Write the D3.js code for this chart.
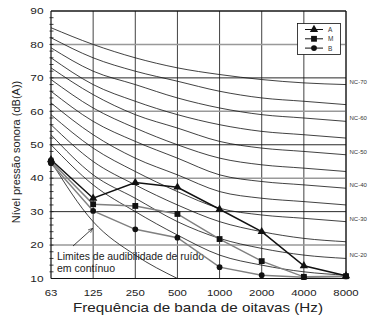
<!DOCTYPE html>
<html>
<head>
<meta charset="utf-8">
<script src="https://cdn.jsdelivr.net/npm/d3@7"></script>
<style>
  body { margin: 0; background: #fff; }
  text { font-family: "Liberation Sans", Arial, sans-serif; }
</style>
</head>
<body>
<script>
// frequency bands (Hz)
var bands = ['63', '125', '250', '500', '1000', '2000', '4000', '8000'];
var yTicks = [10, 20, 30, 40, 50, 60, 70, 80, 90];

// NC curves, one row per curve
var ncNames = ['NC-15', 'NC-20', 'NC-25', 'NC-30', 'NC-35', 'NC-40', 'NC-45', 'NC-50', 'NC-55', 'NC-60', 'NC-65', 'NC-70'];
var ncValues = [
  [50, 38, 30, 23, 17, 14, 12, 11],
  [53, 41, 34, 27, 22, 19, 17, 16],
  [56, 45, 38, 32, 27, 24, 22, 21],
  [59, 49, 42, 36, 31, 29, 28, 27],
  [62.5, 53, 46, 41, 36, 34, 33, 32],
  [66, 57, 51, 46, 41, 39, 38, 37],
  [69.5, 61, 55, 50, 46, 44, 43, 42],
  [73, 65, 59, 55, 51, 49, 48, 47],
  [76, 68, 63, 59, 56, 54, 53, 52],
  [79, 72, 68, 64, 61, 59, 58, 57],
  [82, 76, 72, 69, 66, 64, 63, 62],
  [85, 80, 76, 73, 71, 69.5, 68.5, 68]
];
var ncLabeled = ['NC-20', 'NC-30', 'NC-40', 'NC-50', 'NC-60', 'NC-70'];

// hearing threshold curve
var audBands = ['63', '125', '250', '500'];
var audValues = [45, 27, 17, 10];

// measured series
var seriesNames = ['A', 'M', 'B'];
var serieA = [45.5, 34, 38.7, 37.3, 30.7, 24, 13.8, 10.8];
var serieM = [45, 32.2, 31.7, 29.3, 21.8, 15.2, 10.5, 10.7];
var serieB = [44.5, 30.2, 24.7, 22.2, 13.4, 11, 10.4, 10.6];

var width = 368, height = 319;
var pLeft = 51, pRight = 346, pTop = 11, pBottom = 278.5;

var svg = d3.select('body').append('svg')
  .attr('width', width)
  .attr('height', height);

var x = d3.scalePoint().domain(bands).range([pLeft, pRight]);
var y = d3.scaleLinear().domain([10, 90]).range([pBottom, pTop]);

// grid
svg.append('g').selectAll('line').data(bands.slice(1))
  .enter().append('line')
  .attr('x1', function(d){ return x(d); }).attr('x2', function(d){ return x(d); })
  .attr('y1', pTop).attr('y2', pBottom)
  .attr('stroke', '#111').attr('stroke-width', 0.8);

svg.append('g').selectAll('line').data(yTicks.slice(1))
  .enter().append('line')
  .attr('x1', pLeft).attr('x2', pRight)
  .attr('y1', function(d){ return y(d); }).attr('y2', function(d){ return y(d); })
  .attr('stroke', function(d){ return (d % 20 == 0) ? '#999' : '#111'; })
  .attr('stroke-width', function(d){ return (d % 20 == 0) ? 1.4 : 0.9; });

// NC curves
var ncLine = d3.line()
  .x(function(d, i){ return x(bands[i]); })
  .y(function(d){ return y(d); })
  .curve(d3.curveMonotoneX);

svg.append('g').selectAll('path').data(ncValues)
  .enter().append('path')
  .attr('d', ncLine)
  .attr('fill', 'none')
  .attr('stroke', '#111')
  .attr('stroke-width', 0.8);

svg.append('g').selectAll('text').data(ncLabeled)
  .enter().append('text')
  .attr('x', pRight + 3.5)
  .attr('y', function(d){ return y(ncValues[ncNames.indexOf(d)][7]) - 1; })
  .attr('font-size', 6)
  .attr('fill', '#333')
  .text(function(d){ return d; });

// hearing threshold
var audLine = d3.line()
  .x(function(d, i){ return x(audBands[i]); })
  .y(function(d){ return y(d); })
  .curve(d3.curveMonotoneX);
svg.append('path').attr('d', audLine(audValues))
  .attr('fill', 'none').attr('stroke', '#111').attr('stroke-width', 0.8);

// axes frame
svg.append('line').attr('x1', pLeft).attr('x2', pLeft).attr('y1', pTop).attr('y2', pBottom)
  .attr('stroke', '#111').attr('stroke-width', 1.2);
svg.append('line').attr('x1', pLeft).attr('x2', pRight).attr('y1', pBottom).attr('y2', pBottom)
  .attr('stroke', '#111').attr('stroke-width', 1.2);
svg.append('line').attr('x1', pLeft).attr('x2', pRight).attr('y1', pTop).attr('y2', pTop)
  .attr('stroke', '#111').attr('stroke-width', 1);
svg.append('line').attr('x1', pRight).attr('x2', pRight).attr('y1', pTop).attr('y2', pBottom)
  .attr('stroke', '#111').attr('stroke-width', 1);

// minor ticks every 2 dB
svg.append('g').selectAll('line').data(d3.range(12, 90, 2))
  .enter().append('line')
  .attr('x1', pLeft - 1.5).attr('x2', pLeft + 2.5)
  .attr('y1', function(d){ return y(d); }).attr('y2', function(d){ return y(d); })
  .attr('stroke', '#111').attr('stroke-width', 0.8);

// tick labels (the original is slightly stretched sideways)
svg.append('g').selectAll('text').data(yTicks)
  .enter().append('text')
  .attr('transform', function(d){ return 'translate(' + (pLeft - 7.5) + ',' + (y(d) + 3.3) + ') scale(1.25,1)'; })
  .attr('text-anchor', 'end').attr('font-size', 9.5).attr('fill', '#222')
  .text(function(d){ return d; });

svg.append('g').selectAll('text').data(bands)
  .enter().append('text')
  .attr('transform', function(d){ return 'translate(' + x(d) + ',296) scale(1.2,1)'; })
  .attr('text-anchor', 'middle').attr('font-size', 9.5).attr('fill', '#222')
  .text(function(d){ return d; });

svg.append('text').attr('x', 198).attr('y', 312)
  .attr('text-anchor', 'middle').attr('font-size', 13.5).attr('fill', '#222')
  .attr('textLength', 250).attr('lengthAdjust', 'spacingAndGlyphs')
  .text('Frequência de banda de oitavas (Hz)');

svg.append('text')
  .attr('transform', 'translate(20,' + 152 + ') rotate(-90)')
  .attr('text-anchor', 'middle').attr('font-size', 11).attr('fill', '#222')
  .text('Nível pressão sonora (dB(A))');

// annotation
svg.append('text').attr('x', 57).attr('y', 260).attr('font-size', 10.4).attr('fill', '#222')
  .attr('textLength', 147).attr('lengthAdjust', 'spacingAndGlyphs')
  .text('Limites de audibilidade de ruído');
svg.append('text').attr('x', 57).attr('y', 271.5).attr('font-size', 10.4).attr('fill', '#222')
  .attr('textLength', 58).attr('lengthAdjust', 'spacingAndGlyphs')
  .text('em contínuo');
svg.append('defs').append('marker')
  .attr('id', 'arr').attr('viewBox', '0 0 10 10').attr('refX', 9).attr('refY', 5)
  .attr('markerWidth', 6).attr('markerHeight', 6).attr('orient', 'auto')
  .append('path').attr('d', 'M0,1 L10,5 L0,9').attr('fill', 'none').attr('stroke', '#111').attr('stroke-width', 1.2);
svg.append('line').attr('x1', 73).attr('y1', 246).attr('x2', 92.5).attr('y2', 228.5)
  .attr('stroke', '#111').attr('stroke-width', 0.8).attr('marker-end', 'url(#arr)');

// series
var dataLine = d3.line()
  .x(function(d, i){ return x(bands[i]); })
  .y(function(d){ return y(d); });

var series = [
  {name: 'A', values: serieA, color: '#111', shape: d3.symbolTriangle, size: 30},
  {name: 'M', values: serieM, color: '#808080', shape: d3.symbolSquare, size: 34},
  {name: 'B', values: serieB, color: '#808080', shape: d3.symbolCircle, size: 26}
];

series.slice().reverse().forEach(function(s){
  svg.append('path').attr('d', dataLine(s.values))
    .attr('fill', 'none').attr('stroke', s.color).attr('stroke-width', 1.5);
});
series.forEach(function(s){
  svg.append('g').selectAll('path').data(s.values)
    .enter().append('path')
    .attr('transform', function(d, i){ return 'translate(' + x(bands[i]) + ',' + y(d) + ')'; })
    .attr('d', d3.symbol().type(s.shape).size(s.size))
    .attr('fill', '#111');
});

// legend
var lg = svg.append('g');
lg.append('rect').attr('x', 297.5).attr('y', 23.5).attr('width', 43).attr('height', 31)
  .attr('fill', '#fff').attr('stroke', '#111').attr('stroke-width', 0.8);
series.forEach(function(s, i){
  var ly = 29.5 + i * 9.3;
  lg.append('line').attr('x1', 305).attr('x2', 323).attr('y1', ly).attr('y2', ly)
    .attr('stroke', '#111').attr('stroke-width', 1);
  lg.append('path').attr('transform', 'translate(314,' + ly + ')')
    .attr('d', d3.symbol().type(s.shape).size(s.size)).attr('fill', '#111');
  lg.append('text').attr('x', 328).attr('y', ly + 2.5).attr('font-size', 6.5).attr('fill', '#333')
    .text(seriesNames[i]);
});
</script>
</body>
</html>
